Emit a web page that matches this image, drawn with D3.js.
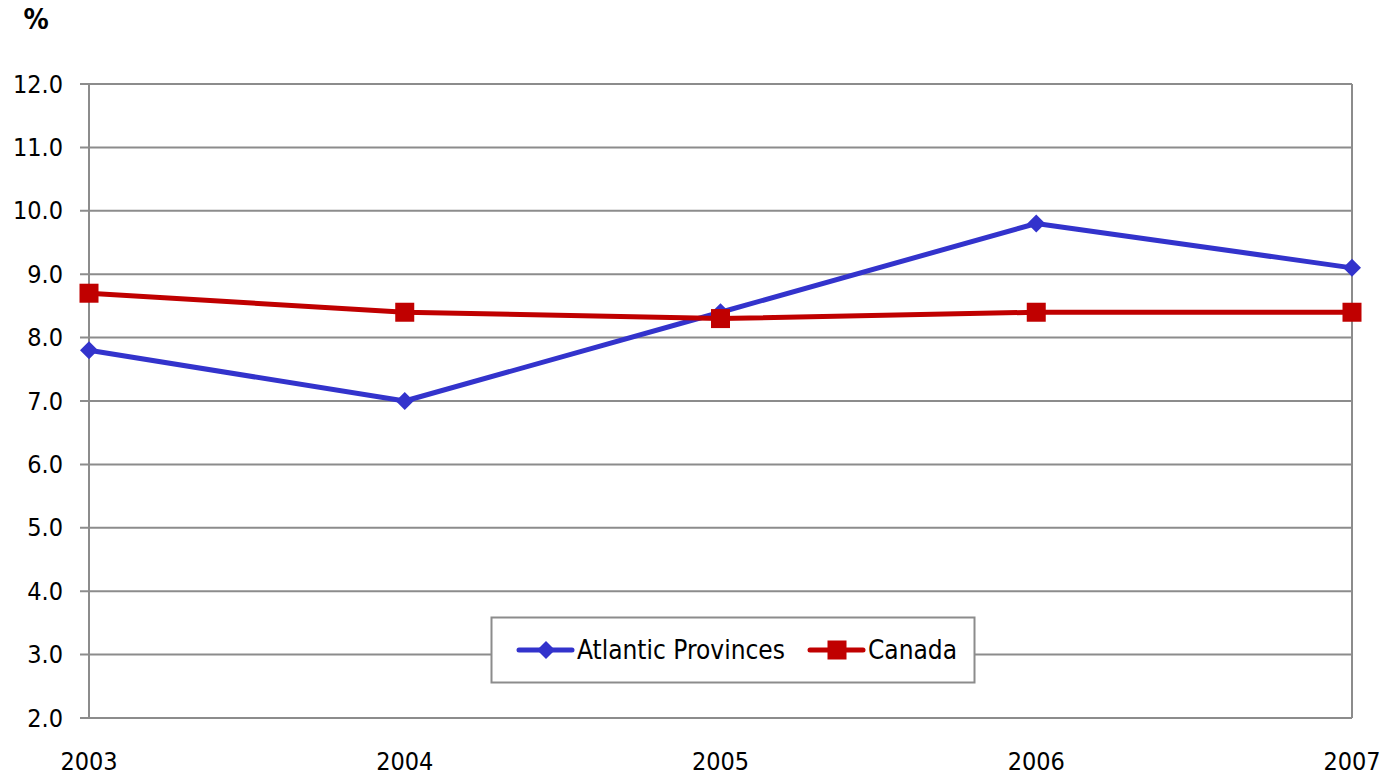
<!DOCTYPE html>
<html>
<head>
<meta charset="utf-8">
<script src="https://cdn.jsdelivr.net/npm/d3@7"></script>
<style>
  body { margin: 0; background: #fff; }
  svg text { font-family: Tahoma, "DejaVu Sans Condensed", "DejaVu Sans", sans-serif; font-stretch: condensed; fill: #000; }
</style>
</head>
<body>
<svg id="chart" width="1387" height="776"></svg>
<script>
const years = ["2003", "2004", "2005", "2006", "2007"];
const atlantic = [7.8, 7.0, 8.4, 9.8, 9.1];
const canada = [8.7, 8.4, 8.3, 8.4, 8.4];
const yTicks = [2, 3, 4, 5, 6, 7, 8, 9, 10, 11, 12];
const seriesNames = ["Atlantic Provinces", "Canada"];

const svg = d3.select("#chart");
const plotLeft = 89, plotRight = 1352, plotTop = 84, plotBottom = 718;
const fontSize = 25;

const x = d3.scalePoint().domain(years).range([plotLeft, plotRight]);
const y = d3.scaleLinear().domain([2, 12]).range([plotBottom, plotTop]);

const gridColor = "#8c8c8c";

// horizontal gridlines
svg.append("g").selectAll("line").data(yTicks).join("line")
  .attr("x1", plotLeft - 9).attr("x2", plotRight)
  .attr("y1", d => y(d)).attr("y2", d => y(d))
  .attr("stroke", gridColor).attr("stroke-width", 2);

// plot frame: left axis and right edge
svg.append("line").attr("x1", plotLeft).attr("x2", plotLeft).attr("y1", plotTop).attr("y2", plotBottom)
  .attr("stroke", gridColor).attr("stroke-width", 2);
svg.append("line").attr("x1", plotRight).attr("x2", plotRight).attr("y1", plotTop).attr("y2", plotBottom)
  .attr("stroke", gridColor).attr("stroke-width", 2);

// y tick labels
svg.append("g").selectAll("text").data(yTicks).join("text")
  .attr("x", plotLeft - 26).attr("y", d => y(d))
  .attr("text-anchor", "end").attr("dominant-baseline", "central")
  .attr("font-size", fontSize)
  .text(d => d3.format(".1f")(d));

// x labels
svg.append("g").selectAll("text").data(years).join("text")
  .attr("x", d => x(d)).attr("y", 761)
  .attr("text-anchor", "middle").attr("dominant-baseline", "central")
  .attr("font-size", fontSize)
  .text(d => d);

// unit label
svg.append("text").attr("x", 36).attr("y", 19)
  .attr("text-anchor", "middle").attr("dominant-baseline", "central")
  .attr("font-size", 28).attr("font-weight", "bold").text("%");

const line = d3.line().x((d, i) => x(years[i])).y(d => y(d));

const blue = "#3333cc", red = "#c00000";

svg.append("path").datum(atlantic).attr("d", line)
  .attr("fill", "none").attr("stroke", blue).attr("stroke-width", 5).attr("stroke-linejoin", "round");
svg.append("path").datum(canada).attr("d", line)
  .attr("fill", "none").attr("stroke", red).attr("stroke-width", 5).attr("stroke-linejoin", "round");

const diamond = (cx, cy, r) => `M${cx},${cy - r}L${cx + r},${cy}L${cx},${cy + r}L${cx - r},${cy}Z`;

svg.append("g").selectAll("path").data(atlantic).join("path")
  .attr("d", (d, i) => diamond(x(years[i]), y(d), 9))
  .attr("fill", blue);

svg.append("g").selectAll("rect").data(canada).join("rect")
  .attr("x", (d, i) => x(years[i]) - 9.5).attr("y", d => y(d) - 9.5)
  .attr("width", 19).attr("height", 19)
  .attr("fill", red);

// legend
const lg = svg.append("g");
lg.append("rect").attr("x", 491.5).attr("y", 617.5).attr("width", 483).attr("height", 65)
  .attr("fill", "#fff").attr("stroke", gridColor).attr("stroke-width", 2);
const ly = 650;
const entries = [
  { name: seriesNames[0], color: blue, x0: 519, tx: 577, marker: "diamond" },
  { name: seriesNames[1], color: red, x0: 810, tx: 868, marker: "square" }
];
entries.forEach(e => {
  lg.append("line").attr("x1", e.x0).attr("x2", e.x0 + 53).attr("y1", ly).attr("y2", ly)
    .attr("stroke", e.color).attr("stroke-width", 5).attr("stroke-linecap", "round");
  const cx = e.x0 + 27;
  if (e.marker === "diamond") {
    lg.append("path").attr("d", diamond(cx, ly, 9)).attr("fill", e.color);
  } else {
    lg.append("rect").attr("x", cx - 9.5).attr("y", ly - 9.5).attr("width", 19).attr("height", 19).attr("fill", e.color);
  }
  lg.append("text").attr("x", e.tx).attr("y", ly).attr("dominant-baseline", "central")
    .attr("font-size", 26).text(e.name);
});
</script>
</body>
</html>
